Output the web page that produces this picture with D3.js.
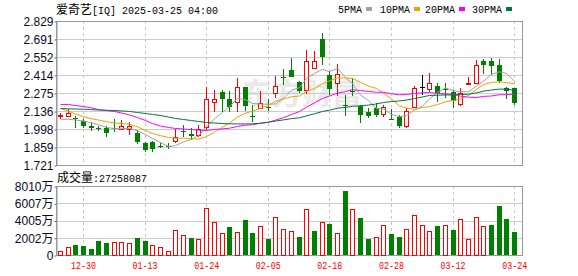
<!DOCTYPE html>
<html><head><meta charset="utf-8">
<script src="https://cdn.jsdelivr.net/npm/d3@7"></script>
<style>html,body{margin:0;padding:0;background:#fff;}svg{display:block}</style>
</head><body><svg id="c" width="578" height="276"></svg>
<script>
const title = ['爱奇艺', '[IQ] 2025-03-25 04:00'];
const dates = ['12-24','12-26','12-27','12-30','12-31','01-02','01-03','01-06','01-07','01-08',
 '01-10','01-13','01-14','01-15','01-16','01-17','01-21','01-22','01-23','01-24',
 '01-27','01-28','01-29','01-30','01-31','02-03','02-04','02-05','02-06','02-07',
 '02-10','02-11','02-12','02-13','02-14','02-18','02-19','02-20','02-21','02-24',
 '02-25','02-26','02-27','02-28','03-03','03-04','03-05','03-06','03-07','03-10',
 '03-11','03-12','03-13','03-14','03-17','03-18','03-19','03-20','03-21','03-24'];
const opens = [2.094,2.100,2.080,2.062,2.023,2.003,2.008,2.007,2.000,2.000,
 1.970,1.893,1.898,1.871,1.871,1.900,1.985,1.960,1.952,2.011,
 2.208,2.285,2.229,2.200,2.319,2.095,2.165,2.167,2.273,2.398,
 2.452,2.362,2.304,2.465,2.688,2.414,2.350,2.179,2.293,2.175,
 2.131,2.157,2.111,2.077,2.093,2.025,2.171,2.320,2.300,2.329,
 2.307,2.284,2.188,2.352,2.354,2.524,2.521,2.491,2.314,2.314];
const highs = [2.119,2.150,2.098,2.073,2.054,2.021,2.021,2.073,2.067,2.054,
 1.990,1.900,1.908,1.888,1.888,1.996,2.027,2.003,2.027,2.324,
 2.298,2.295,2.293,2.388,2.324,2.183,2.287,2.227,2.406,2.457,
 2.542,2.367,2.606,2.601,2.739,2.447,2.498,2.260,2.388,2.183,
 2.162,2.196,2.183,2.150,2.106,2.157,2.331,2.414,2.431,2.354,
 2.354,2.298,2.311,2.400,2.529,2.534,2.542,2.534,2.324,2.316];
const lows = [2.077,2.088,2.008,2.007,1.983,1.983,1.934,1.975,1.990,1.950,
 1.883,1.819,1.819,1.850,1.842,1.893,1.934,1.913,1.939,1.990,
 2.131,2.131,2.131,2.131,2.139,2.054,2.157,2.135,2.234,2.337,
 2.396,2.273,2.267,2.457,2.491,2.260,2.252,2.098,2.252,2.042,
 2.080,2.093,2.093,2.067,2.003,2.003,2.165,2.256,2.285,2.208,
 2.234,2.157,2.177,2.337,2.354,2.421,2.414,2.350,2.227,2.183];
const closes = [2.102,2.121,2.075,2.027,2.006,1.998,1.973,2.003,2.020,2.023,
 1.900,1.836,1.844,1.867,1.868,1.934,1.980,1.947,1.996,2.227,
 2.229,2.231,2.165,2.319,2.170,2.090,2.200,2.164,2.329,2.394,
 2.400,2.293,2.524,2.521,2.550,2.306,2.421,2.175,2.288,2.106,
 2.098,2.106,2.165,2.073,2.021,2.139,2.317,2.320,2.350,2.273,
 2.304,2.217,2.275,2.355,2.491,2.492,2.483,2.370,2.288,2.198];
// volume in 万 (10k shares)
const volumes = [464,929,1161,1045,697,1625,1393,1471,1471,1393,
 1974,1625,1161,929,426,2864,2283,1974,1858,5418,
 3793,2515,3251,2631,4064,2554,3328,1858,4374,2980,
 2747,2090,5302,2786,3793,3599,2515,7430,5302,4296,
 1858,2051,3444,2438,2090,2980,4606,3444,2747,3367,
 3444,2902,4141,1819,4374,3328,3483,5689,4180,2726];
const ma5 = [2.073,2.073,2.067,2.060,2.045,2.030,2.010,2.001,2.000,2.003,
 1.984,1.956,1.925,1.894,1.863,1.870,1.899,1.919,1.945,2.017,
 2.076,2.126,2.170,2.234,2.223,2.195,2.189,2.189,2.191,2.235,
 2.297,2.316,2.388,2.426,2.458,2.439,2.464,2.395,2.348,2.259,
 2.218,2.155,2.153,2.110,2.093,2.101,2.143,2.174,2.229,2.280,
 2.313,2.293,2.284,2.285,2.328,2.366,2.419,2.438,2.425,2.366];
const ma10 = [2.156,2.136,2.113,2.093,2.077,2.067,2.054,2.044,2.040,2.035,
 2.015,1.986,1.963,1.947,1.933,1.927,1.928,1.922,1.920,1.940,
 1.973,2.012,2.044,2.090,2.120,2.135,2.157,2.179,2.212,2.229,
 2.246,2.252,2.288,2.309,2.347,2.368,2.390,2.391,2.387,2.358,
 2.328,2.310,2.274,2.229,2.176,2.159,2.149,2.163,2.170,2.186,
 2.207,2.218,2.229,2.257,2.304,2.339,2.356,2.361,2.355,2.347];
const ma20 = [2.186,2.186,2.179,2.171,2.160,2.148,2.140,2.133,2.121,2.106,
 2.087,2.063,2.040,2.021,2.010,2.002,1.998,1.993,1.989,1.987,
 1.994,1.999,2.004,2.018,2.027,2.031,2.042,2.051,2.066,2.085,
 2.110,2.132,2.166,2.199,2.233,2.252,2.274,2.285,2.300,2.294,
 2.287,2.281,2.281,2.269,2.261,2.264,2.270,2.277,2.278,2.272,
 2.268,2.264,2.251,2.243,2.240,2.249,2.252,2.262,2.262,2.267];
const ma30 = [2.156,2.153,2.152,2.150,2.147,2.144,2.142,2.140,2.137,2.133,
 2.125,2.117,2.110,2.102,2.090,2.079,2.071,2.063,2.056,2.048,
 2.044,2.040,2.038,2.037,2.037,2.038,2.042,2.050,2.059,2.068,
 2.078,2.084,2.099,2.115,2.133,2.143,2.158,2.164,2.173,2.176,
 2.182,2.191,2.202,2.209,2.214,2.221,2.232,2.245,2.256,2.258,
 2.260,2.260,2.264,2.265,2.276,2.289,2.298,2.305,2.304,2.297];
const priceTicks = [2.829,2.691,2.552,2.414,2.275,2.136,1.998,1.859,1.721];
const volTicks = [0,2002,4005,6007,8010];
const dateTicks = ['12-30','01-13','01-24','02-05','02-18','02-28','03-12','03-24'];
const maNames = ['5PMA','10PMA','20PMA','30PMA'];
const maColors = ['#a0a0a0','#f0a000','#ff00ff','#00773c'];
const volLabel = ['成交量', ':27258087'];

const RED = '#ff0000', GREEN = '#008000';
const L = 56, R = 522, PT = 21, PB = 165, VT = 186, VB = 255;
const svg = d3.select('#c');
const x = d3.scaleBand().domain(dates).range([L, 518]);
const yP = d3.scaleLinear().domain([1.721, 2.829]).range([PB, PT]);
const yV = d3.scaleLinear().domain([0, 8010]).range([VB, VT]);
const cxOf = d => Math.round(x(d) + x.bandwidth() / 2);
const mono = "'Liberation Mono', 'DejaVu Sans Mono', monospace";
const cjk = "'Noto Sans CJK SC', sans-serif";
const sans = "'Liberation Sans', Arial, sans-serif";

// watermark
svg.append('text').attr('x', 242).attr('y', 104).attr('font-family', cjk)
  .attr('font-size', 30).attr('font-weight', 'bold').attr('fill', '#e9e9e9').text('东方财富');

// grid
const grid = svg.append('g').attr('shape-rendering', 'crispEdges');
grid.selectAll('line.hp').data(priceTicks.slice(1, -1)).join('line')
  .attr('x1', L).attr('x2', R).attr('y1', d => Math.round(yP(d)) + 0.5).attr('y2', d => Math.round(yP(d)) + 0.5)
  .attr('stroke', '#cccccc');
grid.selectAll('line.hv').data(volTicks.slice(1, -1)).join('line')
  .attr('x1', L).attr('x2', R).attr('y1', d => Math.round(yV(d)) + 0.5).attr('y2', d => Math.round(yV(d)) + 0.5)
  .attr('stroke', '#cccccc');
[[PT, PB], [VT, VB]].forEach(([a, b]) => {
  grid.append('g').selectAll('line').data(dateTicks).join('line')
    .attr('x1', d => cxOf(d) + 0.5).attr('x2', d => cxOf(d) + 0.5).attr('y1', a).attr('y2', b)
    .attr('stroke', '#c8c8c8').attr('stroke-dasharray', '3,3');
});

// frames
svg.append('rect').attr('x', L + 0.5).attr('y', PT + 0.5).attr('width', R - L).attr('height', PB - PT)
  .attr('fill', 'none').attr('stroke', '#999').attr('shape-rendering', 'crispEdges');
svg.append('rect').attr('x', L + 0.5).attr('y', VT + 0.5).attr('width', R - L).attr('height', VB - VT)
  .attr('fill', 'none').attr('stroke', '#999').attr('shape-rendering', 'crispEdges');

// axes
const axP = svg.append('g').attr('transform', `translate(${L + 0.5},0.5)`)
  .call(d3.axisLeft(yP).tickValues(priceTicks).tickFormat(d3.format('.3f')).tickSize(2).tickSizeOuter(0).tickPadding(1));
const axV = svg.append('g').attr('transform', `translate(${L + 0.5},0.5)`)
  .call(d3.axisLeft(yV).tickValues(volTicks).tickFormat(d => d === 0 ? '0' : d + '万').tickSize(2).tickSizeOuter(0).tickPadding(1));
[axP, axV].forEach(a => {
  a.select('.domain').attr('stroke', '#999');
  a.selectAll('.tick line').attr('stroke', '#666');
  a.selectAll('text').attr('font-family', sans).attr('font-size', 12).attr('fill', '#0a0a1e');
});
axV.selectAll('text').attr('font-family', "'Liberation Sans','Noto Sans CJK SC',sans-serif");
const axX = svg.append('g').attr('transform', `translate(0.5,${VB})`)
  .call(d3.axisBottom(x).tickValues(dateTicks).tickSize(0).tickPadding(7).tickSizeOuter(0));
axX.select('.domain').remove();
axX.selectAll('text').attr('font-family', mono).attr('font-size', 10).attr('fill', RED)
  .attr('textLength', 25).attr('lengthAdjust', 'spacingAndGlyphs');

// candles
const data = dates.map((d, i) => ({ d, i, o: opens[i], h: highs[i], l: lows[i], c: closes[i], v: volumes[i] }));
const col = d => d.c > d.o ? RED : (d.c < d.o ? GREEN : '#000');
const cg = svg.append('g').attr('shape-rendering', 'crispEdges');
cg.selectAll('line').data(data).join('line')
  .attr('x1', d => cxOf(d.d) + 0.5).attr('x2', d => cxOf(d.d) + 0.5)
  .attr('y1', d => Math.round(yP(d.h))).attr('y2', d => Math.round(yP(d.l)))
  .attr('stroke', col);
cg.selectAll('rect').data(data).join('rect')
  .attr('x', d => d.c > d.o ? cxOf(d.d) - 2 + 0.5 : cxOf(d.d) - 2)
  .attr('y', d => d.c > d.o ? Math.round(yP(d.c)) + 0.5 : Math.round(yP(Math.max(d.o, d.c))))
  .attr('width', d => d.c > d.o ? 4 : 5)
  .attr('height', d => Math.max(1, Math.round(Math.abs(yP(d.o) - yP(d.c)))))
  .attr('fill', d => d.c > d.o ? '#fff' : col(d))
  .attr('stroke', d => d.c > d.o ? RED : 'none');

// MA lines
const line = d3.line().x((v, i) => cxOf(dates[i]) + 0.5).y(v => yP(v));
[ma5, ma10, ma20, ma30].forEach((arr, k) => {
  svg.append('path').datum(arr).attr('d', line).attr('fill', 'none')
    .attr('stroke', maColors[k]).attr('stroke-width', 1);
});

// volume bars
const up = (d) => d.i === 0 ? true : closes[d.i] >= closes[d.i - 1];
const vg = svg.append('g').attr('shape-rendering', 'crispEdges');
vg.selectAll('rect').data(data).join('rect')
  .attr('x', d => up(d) ? cxOf(d.d) - 2 + 0.5 : cxOf(d.d) - 2)
  .attr('y', d => Math.round(yV(d.v)) + (up(d) ? 0.5 : 0))
  .attr('width', d => up(d) ? 4 : 5)
  .attr('height', d => VB - Math.round(yV(d.v)))
  .attr('fill', d => up(d) ? '#fff' : GREEN)
  .attr('stroke', d => up(d) ? RED : 'none');

// title
const t = svg.append('text').attr('x', L).attr('y', 14).attr('fill', '#000').attr('font-size', 12);
t.append('tspan').attr('font-family', cjk).text(title[0]);
t.append('tspan').attr('font-family', mono).attr('font-size', 11)
  .attr('textLength', 126).attr('lengthAdjust', 'spacingAndGlyphs').text(title[1]);

// volume label
const vt = svg.append('text').attr('x', L + 1).attr('y', 182).attr('fill', '#000').attr('font-size', 12);
vt.append('tspan').attr('font-family', cjk).text(volLabel[0]);
vt.append('tspan').attr('font-family', mono).attr('font-size', 11)
  .attr('textLength', 54).attr('lengthAdjust', 'spacingAndGlyphs').text(volLabel[1]);

// legend
const legX = [338, 380, 425, 472];
const lg = svg.append('g');
maNames.forEach((n, k) => {
  lg.append('text').attr('x', legX[k]).attr('y', 13).attr('font-family', mono).attr('font-size', 11)
    .attr('textLength', n.length * 6).attr('lengthAdjust', 'spacingAndGlyphs').attr('fill', '#000').text(n);
  lg.append('rect').attr('x', legX[k] + n.length * 6 + 4).attr('y', 7).attr('width', 6).attr('height', 4)
    .attr('fill', maColors[k]);
});
</script></body></html>
